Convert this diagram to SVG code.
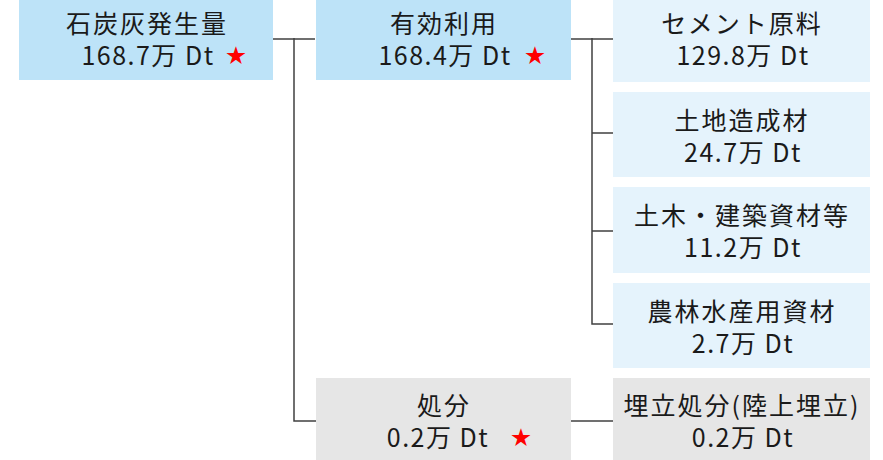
<svg xmlns="http://www.w3.org/2000/svg" width="883" height="460" viewBox="0 0 883 460">
<style>
.b1{fill:#bde3f8}
.b2{fill:#e5f3fc}
.g{fill:#e6e6e6}
text{font-family:"Noto Sans CJK JP","Noto Sans",sans-serif;font-size:25px;fill:#1a1a1a;text-anchor:middle}
.j{letter-spacing:2px}
.n{letter-spacing:1.5px}
.s{fill:#ff0000;font-size:20px;text-anchor:start}
.c{stroke:#404040;stroke-width:1.5;fill:none}
</style>
<rect width="883" height="460" fill="#ffffff"/>
<g id="connectors">
<path class="c" d="M273 39H315M294 38V421H316"/>
<path class="c" d="M570 39H613M592 38V324H613M592 133H613M592 231H613"/>
<path class="c" d="M571 421H613"/>
</g>
<g id="n-total">
<rect class="b1" x="19" y="0" width="254" height="80"/>
<text class="j" x="147" y="33">石炭灰発生量</text>
<text class="n" x="148" y="65">168.7万 Dt</text>
<text class="s" x="226" y="63">★</text>
</g>
<g id="n-use">
<rect class="b1" x="316" y="0" width="255" height="80"/>
<text class="j" x="444" y="33">有効利用</text>
<text class="n" x="445" y="65">168.4万 Dt</text>
<text class="s" x="525" y="63">★</text>
</g>
<g id="n-cement">
<rect class="b2" x="613" y="0" width="257" height="82"/>
<text class="j" x="742" y="33">セメント原料</text>
<text class="n" x="743" y="65">129.8万 Dt</text>
</g>
<g id="n-land">
<rect class="b2" x="613" y="92" width="257" height="85"/>
<text class="j" x="742" y="130">土地造成材</text>
<text class="n" x="743" y="162">24.7万 Dt</text>
</g>
<g id="n-civil">
<rect class="b2" x="613" y="187" width="257" height="86"/>
<text class="j" x="742" y="225">土木・建築資材等</text>
<text class="n" x="743" y="257">11.2万 Dt</text>
</g>
<g id="n-agri">
<rect class="b2" x="613" y="283" width="257" height="85"/>
<text class="j" x="742" y="321">農林水産用資材</text>
<text class="n" x="743" y="353">2.7万 Dt</text>
</g>
<g id="n-disposal">
<rect class="g" x="316" y="378" width="255" height="82"/>
<text class="j" x="444" y="415">処分</text>
<text class="n" x="438" y="447">0.2万 Dt</text>
<text class="s" x="511" y="445">★</text>
</g>
<g id="n-landfill">
<rect class="g" x="613" y="378" width="257" height="82"/>
<text class="j" x="742" y="415">埋立処分(陸上埋立)</text>
<text class="n" x="743" y="447">0.2万 Dt</text>
</g>
</svg>
